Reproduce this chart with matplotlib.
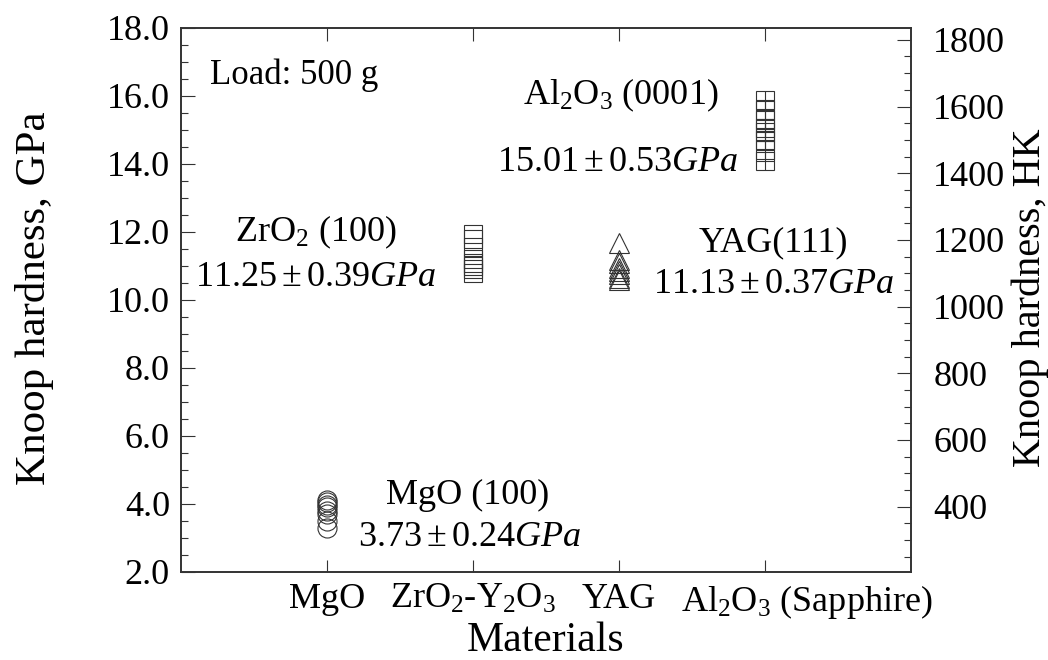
import matplotlib
matplotlib.use('Agg')
import matplotlib.pyplot as plt
from matplotlib.ticker import MultipleLocator
from matplotlib.transforms import ScaledTranslation

plt.rcParams['font.family'] = ['Liberation Serif', 'DejaVu Serif']
plt.rcParams['mathtext.fontset'] = 'custom'
plt.rcParams['mathtext.rm'] = 'Liberation Serif'
plt.rcParams['mathtext.it'] = 'Liberation Serif:italic'

# data (GPa)
materials = ['MgO', 'ZrO$_2$-Y$_2$O$_3$', 'YAG', 'Al$_2$O$_3$ (Sapphire)']
mgo = [4.12, 4.05, 3.98, 3.9, 3.8, 3.7, 3.5, 3.28]
zro2 = [11.93, 11.8, 11.55, 11.2, 11.1, 11.0, 10.9, 10.8]
yag = [11.69, 11.18, 11.09, 10.95, 10.85, 10.76, 10.66, 10.59]
al2o3 = [15.87, 15.6, 15.3, 15.05, 14.95, 14.7, 14.4, 14.1]
gpa_to_hk = 101.97

ec = '#333333'
fig = plt.figure(figsize=(10.48, 6.6), dpi=100)
ax = fig.add_axes([181/1048, 1-572/660, 730/1048, 544/660])

ax.plot([1]*len(mgo), mgo, 'o', ms=13.7, mfc='none', mec=ec, mew=0.8, ls='none')
ax.plot([2]*len(zro2), zro2, 's', ms=12.5, mfc='none', mec=ec, mew=0.8, ls='none')
ax.plot([3]*len(yag), yag, '^', ms=13.7, mfc='none', mec=ec, mew=0.8, ls='none')
ax.plot([4]*len(al2o3), al2o3, 's', ms=12.5, mfc='none', mec=ec, mew=0.8, ls='none')
ax.plot([4]*len(al2o3), al2o3, '+', ms=12.5, mec=ec, mew=0.8, ls='none')

ax.set_xlim(0, 5)
ax.set_ylim(2, 18)
ax.set_xticks([1, 2, 3, 4])
ax.set_xticklabels(materials)
ax.yaxis.set_major_locator(MultipleLocator(2))
ax.yaxis.set_minor_locator(MultipleLocator(0.5))
ax.set_yticklabels(['%.1f' % v for v in ax.get_yticks()])
ax.tick_params(axis='x', direction='in', top=True, length=9, width=0.8,
               labelsize=26, pad=8, color=ec)
ax.tick_params(axis='y', which='major', direction='in', length=10, width=0.8,
               labelsize=26, pad=8, color=ec)
ax.tick_params(axis='y', which='minor', direction='in', length=5, width=0.8, color=ec)
for s in ax.spines.values():
    s.set_linewidth(1.2)
    s.set_color(ec)

# sapphire label sits right of its tick in the original
lab = ax.get_xticklabels()[3]
lab.set_transform(lab.get_transform() + ScaledTranslation(0.42, 0, fig.dpi_scale_trans))

ax.set_xlabel('Materials', fontsize=30, labelpad=0)
fig.text(35/1048, 1-298/660, 'Knoop hardness, GPa', fontsize=31, rotation=90,
         ha='center', va='center')

ax2 = ax.twinx()
ax2.set_ylim(2*gpa_to_hk, 18*gpa_to_hk)
ax2.yaxis.set_minor_locator(MultipleLocator(50))
ax2.set_yticks(range(400, 1801, 200))
ax2.tick_params(axis='y', which='major', direction='in', length=10, width=0.8,
                labelsize=26, pad=16, color=ec)
ax2.tick_params(axis='y', which='minor', direction='in', length=5, width=0.8, color=ec)
for s in ax2.spines.values():
    s.set_linewidth(1.2)
    s.set_color(ec)
fig.text(1030/1048, 1-298/660, 'Knoop hardness, HK', fontsize=29, rotation=90,
         ha='center', va='center')

ax.text(0.2, 16.6, 'Load: 500 g', fontsize=25, ha='left', va='center')
ax.text(1.96, 4.26, 'MgO (100)', fontsize=26, ha='center', va='center')
ax.text(1.98, 3.0, r'$3.73\pm0.24\mathit{GPa}$', fontsize=26, ha='center', va='center')
ax.text(0.92, 12.0, 'ZrO$_2$ (100)', fontsize=26, ha='center', va='center')
ax.text(0.92, 10.65, r'$11.25\pm0.39\mathit{GPa}$', fontsize=26, ha='center', va='center')
ax.text(3.01, 16.03, 'Al$_2$O$_3$ (0001)', fontsize=26, ha='center', va='center')
ax.text(2.99, 14.03, r'$15.01\pm0.53\mathit{GPa}$', fontsize=26, ha='center', va='center')
ax.text(4.06, 11.68, 'YAG(111)', fontsize=26, ha='center', va='center')
ax.text(4.06, 10.47, r'$11.13\pm0.37\mathit{GPa}$', fontsize=26, ha='center', va='center')

fig.savefig('out.png', dpi=100)
